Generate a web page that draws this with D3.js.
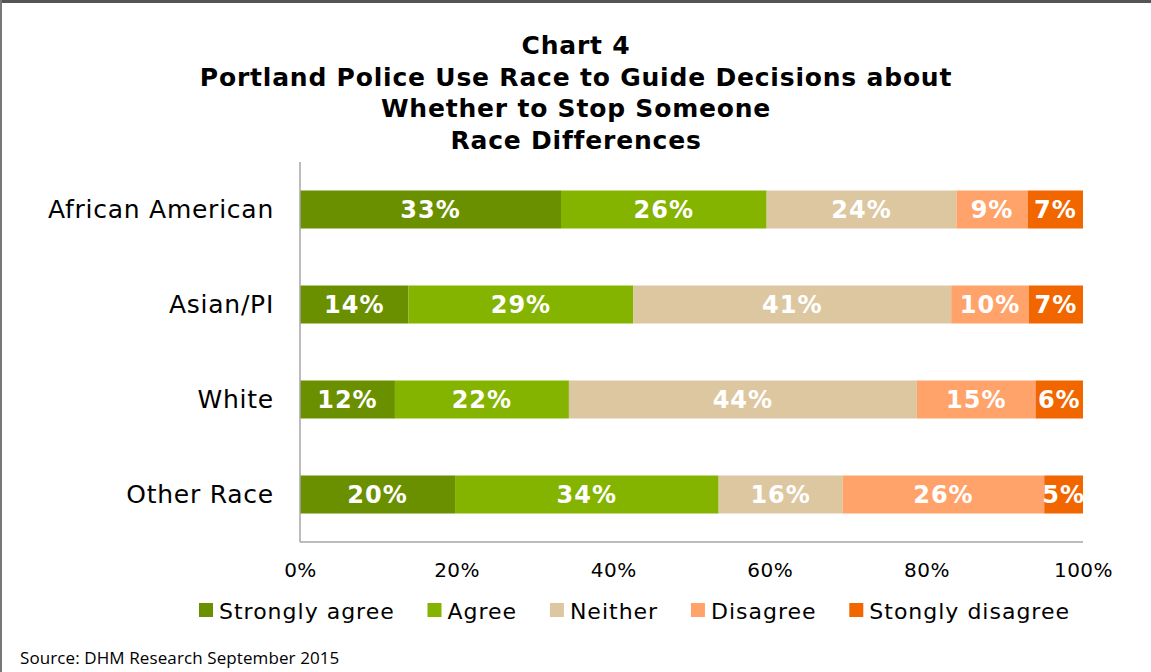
<!DOCTYPE html>
<html>
<head>
<meta charset="utf-8">
<script src="https://cdn.jsdelivr.net/npm/d3@7"></script>
<style>
  body { margin: 0; background: #fff; }
  svg { display: block; }
</style>
</head>
<body>
<div class="StackedChart"></div>
<script>
const titleLines = ["Chart 4", "Portland Police Use Race to Guide Decisions about", "Whether to Stop Someone", "Race Differences"];
const categories = ["African American", "Asian/PI", "White", "Other Race"];
const seriesNames = ["Strongly agree", "Agree", "Neither", "Disagree", "Stongly disagree"];
const stronglyAgree = [33, 14, 12, 20];
const agree = [26, 29, 22, 34];
const neither = [24, 41, 44, 16];
const disagree = [9, 10, 15, 26];
const stronglyDisagree = [7, 7, 6, 5];
const xTicks = [0, 0.2, 0.4, 0.6, 0.8, 1];
const sourceText = "Source: DHM Research September 2015";

const colors = ["#6a9000", "#84b400", "#ddc7a1", "#ffa36b", "#f26600"];

function buildRows() {
  const series = [stronglyAgree, agree, neither, disagree, stronglyDisagree];
  return categories.map((cat, i) => {
    const row = { category: cat };
    seriesNames.forEach((s, j) => row[s] = series[j][i]);
    return row;
  });
}

function setupSvg() {
  const width = 1151, height = 672;
  const margin = { top: 162, right: 68, bottom: 130, left: 300 };
  const svg = d3.select(".StackedChart")
    .append("svg")
    .attr("width", width)
    .attr("height", height);

  // frame lines (top and left) like the cropped document
  svg.append("line").attr("x1", 0).attr("x2", width).attr("y1", 1.5).attr("y2", 1.5)
    .attr("stroke", "#555").attr("stroke-width", 3);
  svg.append("line").attr("x1", 1).attr("x2", 1).attr("y1", 0).attr("y2", height)
    .attr("stroke", "#777").attr("stroke-width", 2);

  return { svg, margin, width, height };
}

function drawTitle(svg, width) {
  svg.append("text")
    .attr("text-anchor", "middle")
    .style("font-family", "DejaVu Sans")
    .style("font-weight", "bold")
    .style("font-size", "25px")
    .style("letter-spacing", "0.8px")
    .attr("fill", "#000")
    .selectAll("tspan")
    .data(titleLines)
    .join("tspan")
    .attr("x", 576)
    .attr("y", (d, i) => 54 + i * 31.7)
    .text(d => d);
}

function drawChart(svg, margin, width, height) {
  const plotW = width - margin.left - margin.right;
  const plotH = height - margin.top - margin.bottom;
  const g = svg.append("g").attr("transform", `translate(${margin.left},${margin.top})`);

  const rows = buildRows();
  const stack = d3.stack().keys(seriesNames).offset(d3.stackOffsetExpand);
  const layers = stack(rows);

  const x = d3.scaleLinear().domain([0, 1]).range([0, plotW]);
  const y = d3.scaleBand().domain(categories).range([0, plotH]).paddingInner(0.6).paddingOuter(0.3);

  const layer = g.selectAll(".layer")
    .data(layers)
    .join("g")
    .attr("class", "layer")
    .attr("fill", (d, i) => colors[i]);

  layer.selectAll("rect")
    .data(d => d)
    .join("rect")
    .attr("x", d => x(d[0]))
    .attr("y", d => y(d.data.category))
    .attr("width", d => x(d[1]) - x(d[0]))
    .attr("height", y.bandwidth());

  layer.selectAll("text")
    .data(d => d.map(p => ({ p, key: d.key })))
    .join("text")
    .attr("x", d => (x(d.p[0]) + x(d.p[1])) / 2)
    .attr("y", d => y(d.p.data.category) + y.bandwidth() / 2)
    .attr("dy", "0.36em")
    .attr("text-anchor", "middle")
    .attr("fill", "#fff")
    .style("font-family", "DejaVu Sans")
    .style("font-weight", "bold")
    .style("font-size", "24px")
    .style("letter-spacing", "1px")
    .text(d => d.p.data[d.key] + "%");

  // axes lines
  g.append("line").attr("x1", 0).attr("x2", 0).attr("y1", 0).attr("y2", plotH)
    .attr("stroke", "#a6a6a6").attr("stroke-width", 1.5);
  g.append("line").attr("x1", 0).attr("x2", plotW).attr("y1", plotH).attr("y2", plotH)
    .attr("stroke", "#a6a6a6").attr("stroke-width", 1.5);

  const xAxis = g.append("g")
    .attr("transform", `translate(0,${plotH})`)
    .call(d3.axisBottom(x).tickValues(xTicks).tickFormat(d3.format(".0%")).tickSize(0).tickPadding(21));
  xAxis.select(".domain").remove();
  xAxis.selectAll("text")
    .style("font-family", "DejaVu Sans")
    .style("font-size", "20px")
    .style("letter-spacing", "0.5px")
    .attr("fill", "#000");

  const yAxis = g.append("g")
    .call(d3.axisLeft(y).tickSize(0).tickPadding(26));
  yAxis.select(".domain").remove();
  yAxis.selectAll("text")
    .style("font-family", "DejaVu Sans")
    .style("font-size", "25px")
    .style("letter-spacing", "0.75px")
    .attr("fill", "#000");
}

function drawLegend(svg) {
  const startX = 199, endX = 1070, legendY = 611, box = 14, boxGap = 6;
  const legend = svg.append("g").attr("class", "legend");
  const items = legend.selectAll("g")
    .data(seriesNames)
    .join("g");
  items.append("rect")
    .attr("x", 0).attr("y", -8).attr("width", box).attr("height", box)
    .attr("fill", (d, i) => colors[i]);
  items.append("text")
    .attr("x", box + boxGap)
    .attr("dy", "0.36em")
    .style("font-family", "DejaVu Sans")
    .style("font-size", "22px")
    .style("letter-spacing", "1px")
    .attr("fill", "#000")
    .text(d => d);

  const widths = [];
  items.select("text").each(function() { widths.push(box + boxGap + this.getComputedTextLength()); });
  const gap = (endX - startX - d3.sum(widths)) / (widths.length - 1);
  let cur = startX;
  items.attr("transform", (d, i) => {
    const t = `translate(${cur},${legendY})`;
    cur += widths[i] + gap;
    return t;
  });
}

function drawSource(svg) {
  svg.append("text")
    .attr("x", 20)
    .attr("y", 664)
    .style("font-family", "Open Sans")
    .style("font-size", "17px")
    .style("letter-spacing", "0.1px")
    .attr("fill", "#000")
    .text(sourceText);
}

const { svg, margin, width, height } = setupSvg();
drawTitle(svg, width);
drawChart(svg, margin, width, height);
drawLegend(svg);
drawSource(svg);
</script>
</body>
</html>
